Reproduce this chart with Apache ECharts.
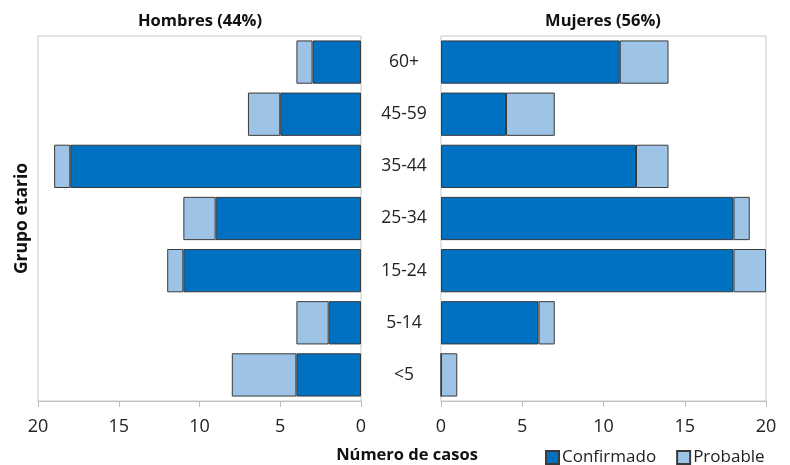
<!DOCTYPE html>
<html><head><meta charset="utf-8">
<script src="https://cdn.jsdelivr.net/npm/echarts@6/dist/echarts.min.js"></script>
<style>html,body{margin:0;padding:0;background:#fff}#c{width:790px;height:465px}</style>
</head><body><div id="c"></div>
<script>
const categories = ['<5','5-14','15-24','25-34','35-44','45-59','60+'];
const hombresConfirmado = [4, 2, 11, 9, 18, 5, 3];
const hombresProbable   = [4, 2, 1, 2, 1, 2, 1];
const mujeresConfirmado = [0, 6, 18, 18, 12, 4, 11];
const mujeresProbable   = [1, 1, 2, 1, 2, 3, 3];
const xTicks = [0, 5, 10, 15, 20];

const FONT = '"Open Sans", sans-serif';
const cConf = '#0070C0', cProb = '#9DC3E6', cBorder = '#3a3a3a';
const chart = echarts.init(document.getElementById('c'));
const xAxisBase = (gi, inv) => ({
  gridIndex: gi, type: 'value', min: xTicks[0], max: xTicks[xTicks.length-1], interval: 5, inverse: inv,
  axisLine: {show: true, lineStyle: {color: '#bfbfbf'}},
  axisTick: {show: true, length: 6, lineStyle: {color: '#bfbfbf'}},
  splitLine: {show: false},
  axisLabel: {color: '#222', fontSize: 18, fontFamily: FONT, margin: 17}
});
const barBase = {type: 'bar', barCategoryGap: '17%'};
const titleStyle = {fontSize: 16.5, fontWeight: 'bold', fontFamily: FONT, color: '#111'};
chart.setOption({
  animation: false,
  grid: [
    {left: 38, right: 429, top: 36, bottom: 64, show: true, borderColor: '#c8c8c8', borderWidth: 1},
    {left: 441, right: 24, top: 36, bottom: 64, show: true, borderColor: '#c8c8c8', borderWidth: 1}
  ],
  title: [
    {text: 'Hombres (44%)', left: 195, top: 8, textAlign: 'center', textStyle: titleStyle},
    {text: 'Mujeres (56%)', left: 598, top: 8, textAlign: 'center', textStyle: titleStyle},
    {text: 'Número de casos', left: 402, top: 442, textAlign: 'center', textStyle: titleStyle}
  ],
  legend: {
    left: 540, top: 444, itemWidth: 13, itemHeight: 13, itemGap: 20, icon: 'rect',
    textStyle: {fontSize: 17, fontFamily: FONT, color: '#222', padding: [0,0,0,-2]},
    data: ['Confirmado', 'Probable']
  },
  xAxis: [xAxisBase(0, true), xAxisBase(1, false)],
  yAxis: [
    {gridIndex: 0, type: 'category', data: categories, axisLine: {show: false}, axisTick: {show: false}, axisLabel: {show: false},
     name: 'Grupo etario', nameLocation: 'middle', nameGap: 7, nameRotate: 90,
     nameTextStyle: Object.assign({}, titleStyle, {fontSize: 17.5})},
    {gridIndex: 1, type: 'category', data: categories, axisLine: {show: false}, axisTick: {show: false},
     axisLabel: {show: true, margin: 37, align: 'center', fontSize: 17.5, fontFamily: FONT, color: '#222'}}
  ],
  series: [
    Object.assign({}, barBase, {name: 'Confirmado', stack: 'h', xAxisIndex: 0, yAxisIndex: 0, data: hombresConfirmado, itemStyle: {color: cConf, borderColor: cBorder, borderWidth: 1}}),
    Object.assign({}, barBase, {name: 'Probable', stack: 'h', xAxisIndex: 0, yAxisIndex: 0, data: hombresProbable, itemStyle: {color: cProb, borderColor: cBorder, borderWidth: 1}}),
    Object.assign({}, barBase, {name: 'Confirmado', stack: 'm', xAxisIndex: 1, yAxisIndex: 1, data: mujeresConfirmado, itemStyle: {color: cConf, borderColor: cBorder, borderWidth: 1}}),
    Object.assign({}, barBase, {name: 'Probable', stack: 'm', xAxisIndex: 1, yAxisIndex: 1, data: mujeresProbable, itemStyle: {color: cProb, borderColor: cBorder, borderWidth: 1}})
  ]
});
</script></body></html>
